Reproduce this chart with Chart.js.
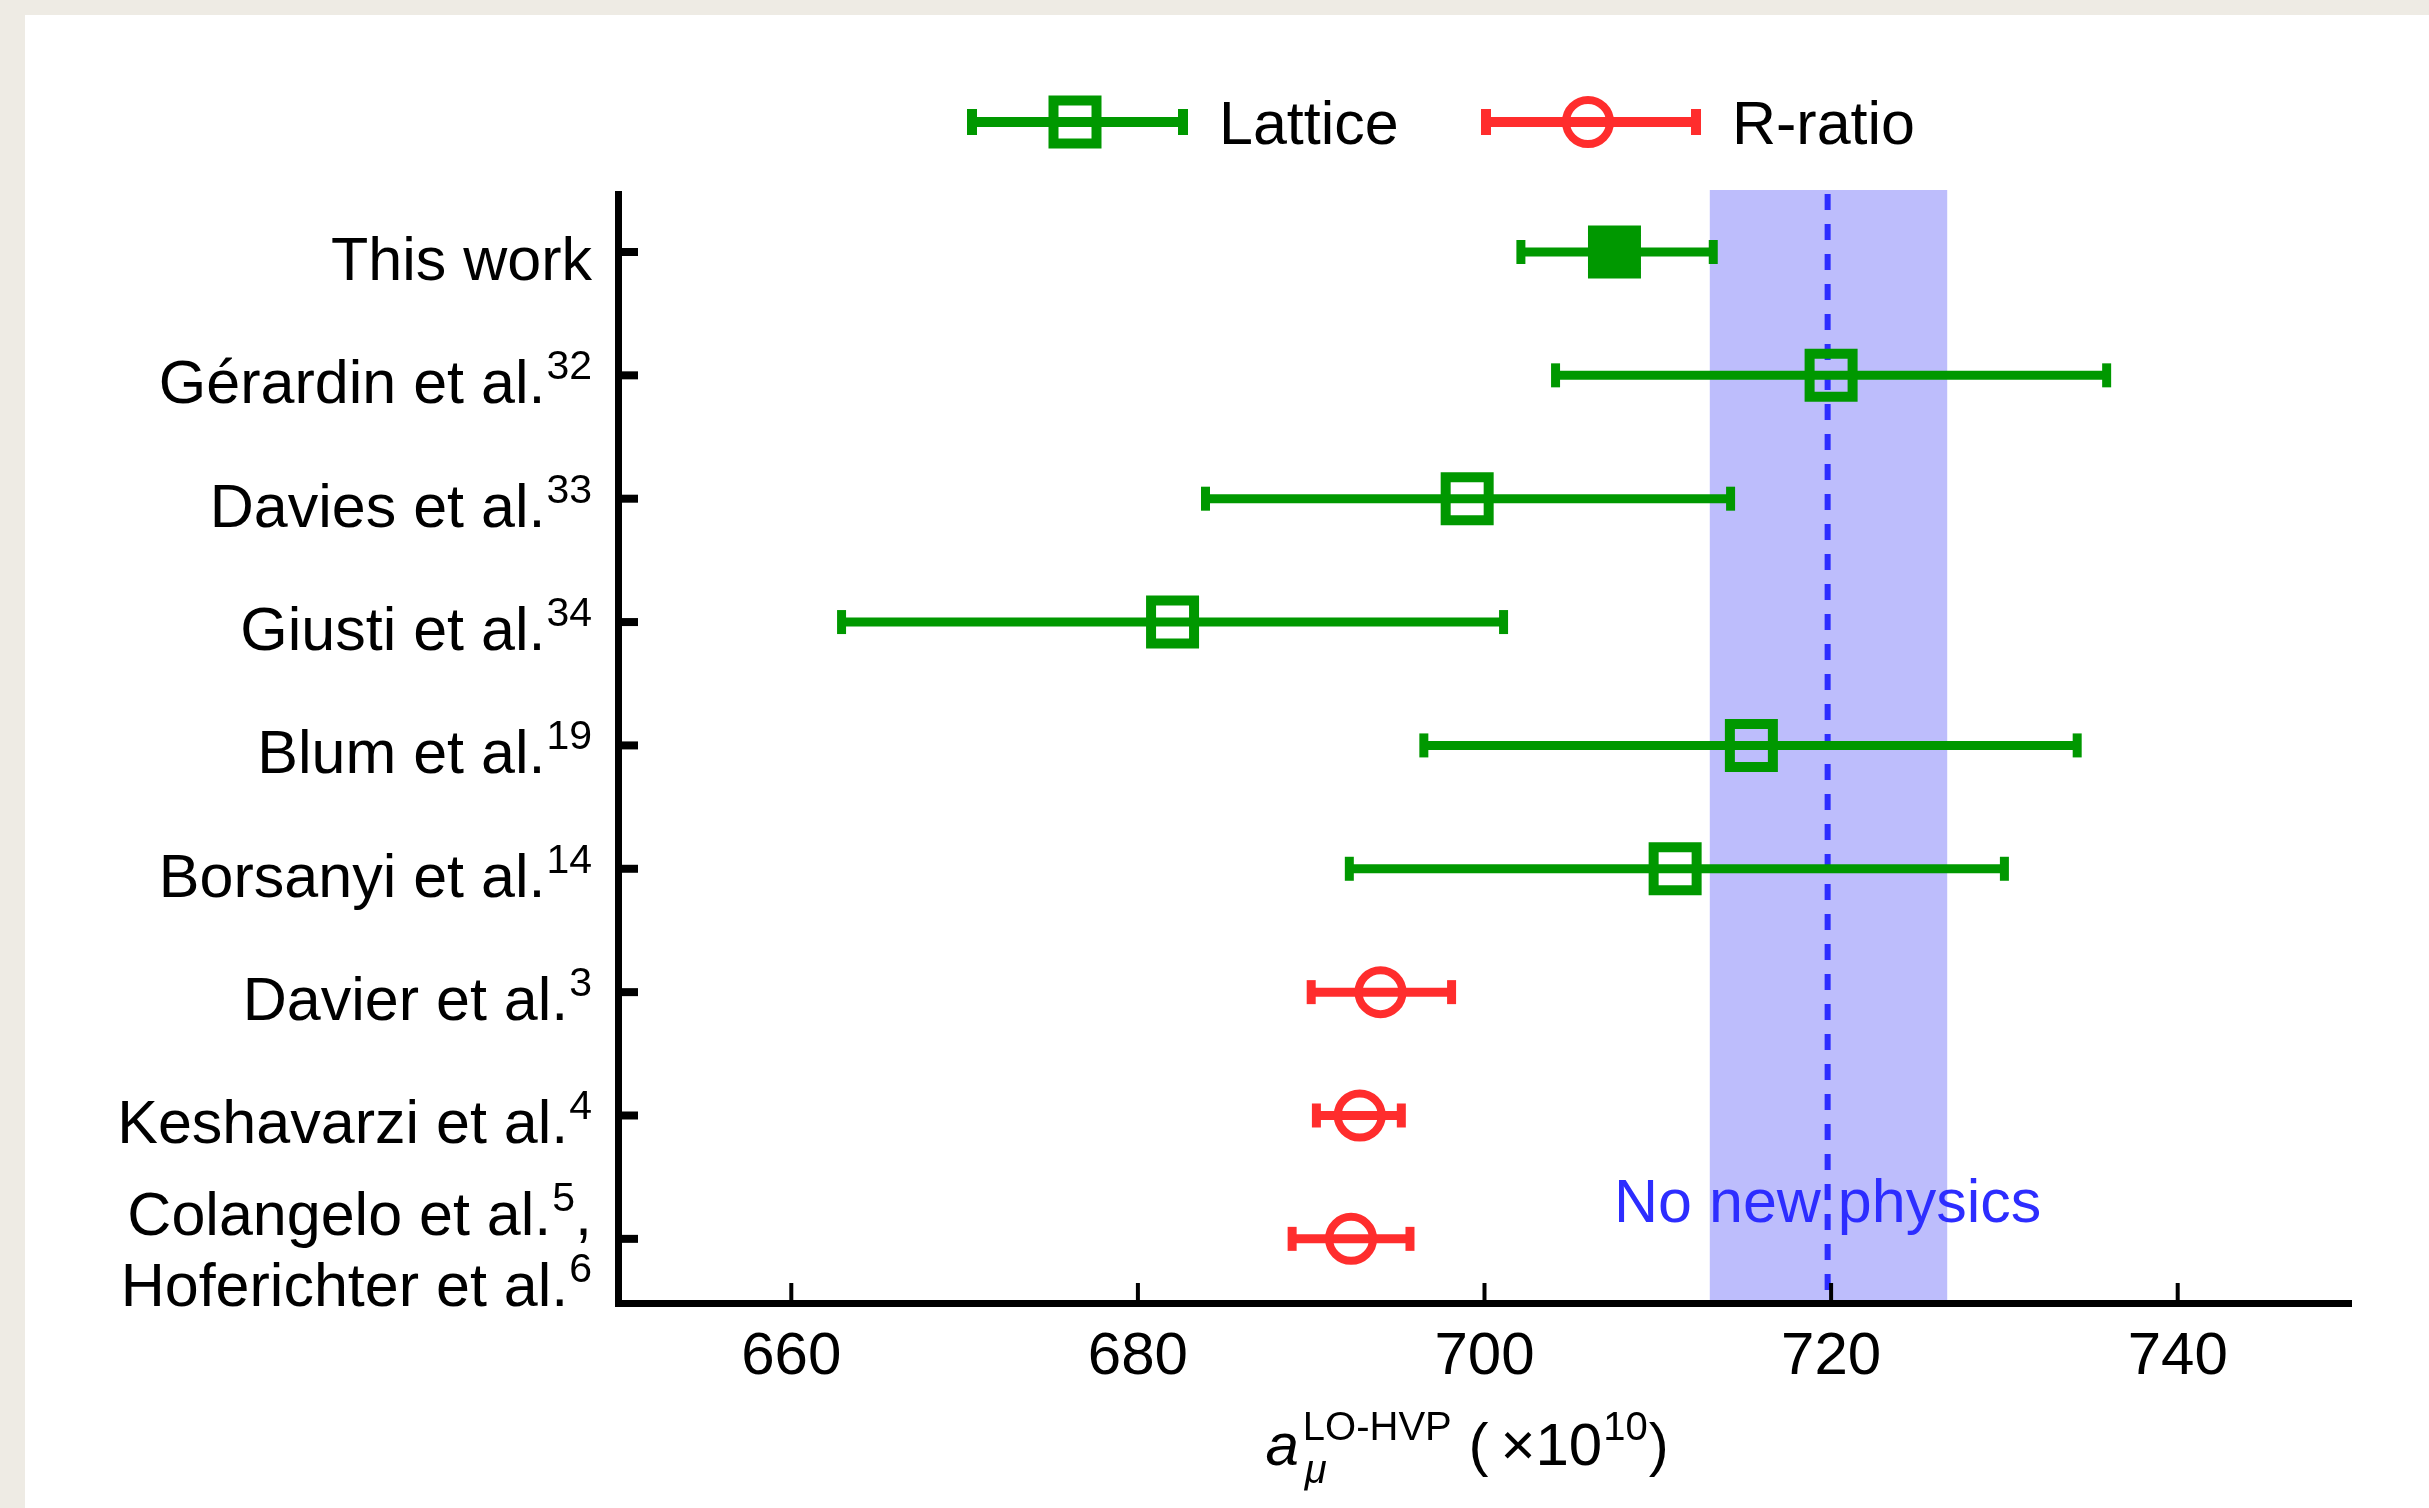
<!DOCTYPE html>
<html>
<head>
<meta charset="utf-8">
<script src="https://cdn.jsdelivr.net/npm/chart.js@4.4.1/dist/chart.umd.min.js"></script>
<style>
  html, body { margin: 0; padding: 0; width: 2429px; height: 1508px; background: #eeebe4; overflow: hidden; }
  #card { position: absolute; left: 25px; top: 15px; width: 2404px; height: 1493px; background: #fff; }
  canvas { display: block; }
</style>
</head>
<body>
<div id="card"><canvas id="chart" width="2404" height="1493"></canvas></div>
<script>
// values (a_mu^LO-HVP x 10^10)
const rowLabels = [
  [["This work", ""]],
  [["Gérardin et al.", "32"]],
  [["Davies et al.", "33"]],
  [["Giusti et al.", "34"]],
  [["Blum et al.", "19"]],
  [["Borsanyi et al.", "14"]],
  [["Davier et al.", "3"]],
  [["Keshavarzi et al.", "4"]],
  [["Colangelo et al.", "5", ","], ["Hoferichter et al.", "6"]],
];
const method = ["Lattice", "Lattice", "Lattice", "Lattice", "Lattice", "Lattice", "R-ratio", "R-ratio", "R-ratio"];
const filled = [true, false, false, false, false, false, false, false, false];
const centers = [707.5, 720.0, 699.0, 682.0, 715.4, 711.0, 694.0, 692.8, 692.3];
const lower = [702.1, 704.1, 683.9, 662.9, 696.5, 692.2, 690.0, 690.3, 688.9];
const upper = [713.2, 735.9, 714.2, 701.1, 734.2, 730.0, 698.1, 695.2, 695.7];
const band = [713.0, 726.7];
const noNewPhysics = 719.8;
const xTicks = [660, 680, 700, 720, 740];

const FONT = "'Liberation Sans', Arial, Helvetica, sans-serif";
const GREEN = "rgb(0,152,0)";
const RED = "rgb(255,45,45)";
const BAND = "rgb(189,189,252)";
const BLUE = "rgb(45,45,255)";
const yMin = -0.47, yMax = 8.52;

const colorOf = (i) => (method[i] === "Lattice" ? GREEN : RED);

const datasets = [];
datasets.push({
  label: "No new physics",
  data: [{ x: noNewPhysics, y: yMin }, { x: noNewPhysics, y: yMax }],
  showLine: true,
  borderColor: BLUE,
  borderWidth: 6,
  borderDash: [16, 14],
  pointRadius: 0,
  order: 3,
});
centers.forEach((c, i) => {
  datasets.push({
    label: "err" + i,
    data: [{ x: lower[i], y: i }, { x: upper[i], y: i }],
    showLine: true,
    borderColor: colorOf(i),
    borderWidth: 9,
    pointStyle: "line",
    rotation: 90,
    pointRadius: 12,
    pointBorderWidth: 9,
    pointBorderColor: colorOf(i),
    pointBackgroundColor: colorOf(i),
    order: 2,
  });
});
const latIdx = centers.map((c, i) => i).filter((i) => method[i] === "Lattice");
const rrIdx = centers.map((c, i) => i).filter((i) => method[i] === "R-ratio");
datasets.push({
  label: "Lattice",
  data: latIdx.map((i) => ({ x: centers[i], y: i })),
  pointStyle: "rect",
  pointRadius: 30.4,
  pointBorderWidth: 10,
  pointBorderColor: GREEN,
  pointBackgroundColor: latIdx.map((i) => (filled[i] ? GREEN : "rgba(0,0,0,0)")),
  showLine: false,
  order: 1,
});
datasets.push({
  label: "R-ratio",
  data: rrIdx.map((i) => ({ x: centers[i], y: i })),
  pointStyle: "circle",
  pointRadius: 22,
  pointBorderWidth: 8,
  pointBorderColor: RED,
  pointBackgroundColor: "rgba(0,0,0,0)",
  showLine: false,
  order: 1,
});

const bandPlugin = {
  id: "band",
  beforeDatasetsDraw(chart) {
    const { ctx, chartArea: a, scales: { x } } = chart;
    const x0 = x.getPixelForValue(band[0]);
    const x1 = x.getPixelForValue(band[1]);
    ctx.save();
    ctx.fillStyle = BAND;
    ctx.fillRect(x0, a.top - 4, x1 - x0, a.bottom - a.top + 1);
    ctx.restore();
  },
};

function textWithSup(ctx, parts, right, base, size) {
  const [main, sup, tail] = parts;
  const supSize = Math.round(size * 0.68);
  ctx.font = `${size}px ${FONT}`;
  const wMain = ctx.measureText(main).width;
  const wTail = tail ? ctx.measureText(tail).width : 0;
  ctx.font = `${supSize}px ${FONT}`;
  const wSup = sup ? ctx.measureText(sup).width + 1 : 0;
  let x = right - wMain - wSup - wTail;
  ctx.font = `${size}px ${FONT}`;
  ctx.fillText(main, x, base);
  x += wMain;
  if (sup) {
    ctx.font = `${supSize}px ${FONT}`;
    ctx.fillText(sup, x + 1, base - 24);
    x += wSup;
  }
  if (tail) {
    ctx.font = `${size}px ${FONT}`;
    ctx.fillText(tail, x, base);
  }
}

const decorPlugin = {
  id: "decor",
  afterDraw(chart) {
    const { ctx, chartArea: a, scales: { x, y } } = chart;
    ctx.save();
    // inward ticks
    ctx.strokeStyle = "#000";
    ctx.lineWidth = 4;
    xTicks.forEach((v) => {
      const px = x.getPixelForValue(v);
      ctx.beginPath();
      ctx.moveTo(px, a.bottom);
      ctx.lineTo(px, a.bottom - 20);
      ctx.stroke();
    });
    ctx.lineWidth = 8;
    centers.forEach((c, i) => {
      const py = y.getPixelForValue(i);
      ctx.beginPath();
      ctx.moveTo(a.left, py);
      ctx.lineTo(a.left + 20, py);
      ctx.stroke();
    });

    // x tick labels
    ctx.fillStyle = "#000";
    ctx.font = `60px ${FONT}`;
    ctx.textAlign = "center";
    ctx.textBaseline = "alphabetic";
    xTicks.forEach((v) => {
      ctx.fillText(String(v), x.getPixelForValue(v), a.bottom + 71);
    });

    // row labels with reference superscripts
    ctx.textAlign = "left";
    const right = a.left - 26;
    rowLabels.forEach((lines, i) => {
      const py = y.getPixelForValue(i);
      if (lines.length === 1) {
        textWithSup(ctx, lines[0], right, py + 28, 61);
      } else {
        textWithSup(ctx, lines[0], right, py - 4, 61);
        textWithSup(ctx, lines[1], right, py + 67, 61);
      }
    });

    // "No new physics"
    ctx.fillStyle = BLUE;
    ctx.font = `61px ${FONT}`;
    ctx.textAlign = "center";
    ctx.fillText("No new physics", x.getPixelForValue(noNewPhysics), y.getPixelForValue(7.86));

    // axis title: a_mu^{LO-HVP} ( x10^10 )
    ctx.fillStyle = "#000";
    ctx.textAlign = "left";
    const base = 1450;
    let tx = (a.left + a.right) / 2 - 13 - 206;
    ctx.font = `italic 60px ${FONT}`;
    ctx.fillText("a", tx, base);
    tx += ctx.measureText("a").width + 4;
    ctx.font = `italic 40px ${FONT}`;
    ctx.fillText("\u03bc", tx + 2, base + 18);
    ctx.font = `40px ${FONT}`;
    ctx.fillText("LO-HVP", tx, base - 25);
    tx += ctx.measureText("LO-HVP").width;
    ctx.font = `60px ${FONT}`;
    const mid = " (\u2009\u00d710";
    ctx.fillText(mid, tx, base);
    tx += ctx.measureText(mid).width + 1;
    ctx.font = `40px ${FONT}`;
    ctx.fillText("10", tx, base - 25);
    tx += ctx.measureText("10").width + 1;
    ctx.font = `60px ${FONT}`;
    ctx.fillText(")", tx, base);

    // legend
    const ly = 107;
    const drawBar = (x0, x1, col) => {
      ctx.strokeStyle = col;
      ctx.lineWidth = 10;
      ctx.beginPath();
      ctx.moveTo(x0, ly);
      ctx.lineTo(x1, ly);
      ctx.stroke();
      [x0, x1].forEach((cx) => {
        ctx.beginPath();
        ctx.moveTo(cx, ly - 13);
        ctx.lineTo(cx, ly + 13);
        ctx.stroke();
      });
    };
    drawBar(947, 1158, GREEN);
    ctx.lineWidth = 10;
    ctx.strokeRect(1050 - 21.5, ly - 21.5, 43, 43);
    drawBar(1461, 1671, RED);
    ctx.lineWidth = 8;
    ctx.beginPath();
    ctx.arc(1563, ly, 22, 0, Math.PI * 2);
    ctx.stroke();
    ctx.fillStyle = "#000";
    ctx.font = `61px ${FONT}`;
    ctx.fillText("Lattice", 1194, ly + 22);
    ctx.fillText("R-ratio", 1707, ly + 22);
    ctx.restore();
  },
};

new Chart(document.getElementById("chart"), {
  type: "scatter",
  data: { datasets },
  options: {
    responsive: false,
    animation: false,
    events: [],
    layout: { padding: { left: 593, right: 78, top: 179, bottom: 205 } },
    plugins: { legend: { display: false }, tooltip: { enabled: false } },
    scales: {
      x: {
        type: "linear",
        min: 650,
        max: 750,
        afterBuildTicks: (s) => { s.ticks = xTicks.map((v) => ({ value: v })); },
        afterFit: (s) => { s.height = 0; },
        grid: { display: false, drawTicks: false },
        border: { display: true, color: "#000", width: 7 },
        ticks: { display: false },
      },
      y: {
        type: "linear",
        reverse: true,
        min: yMin,
        max: yMax,
        afterFit: (s) => { s.width = 0; },
        grid: { display: false, drawTicks: false },
        border: { display: true, color: "#000", width: 7 },
        ticks: { display: false },
      },
    },
  },
  plugins: [bandPlugin, decorPlugin],
});
</script>
</body>
</html>
